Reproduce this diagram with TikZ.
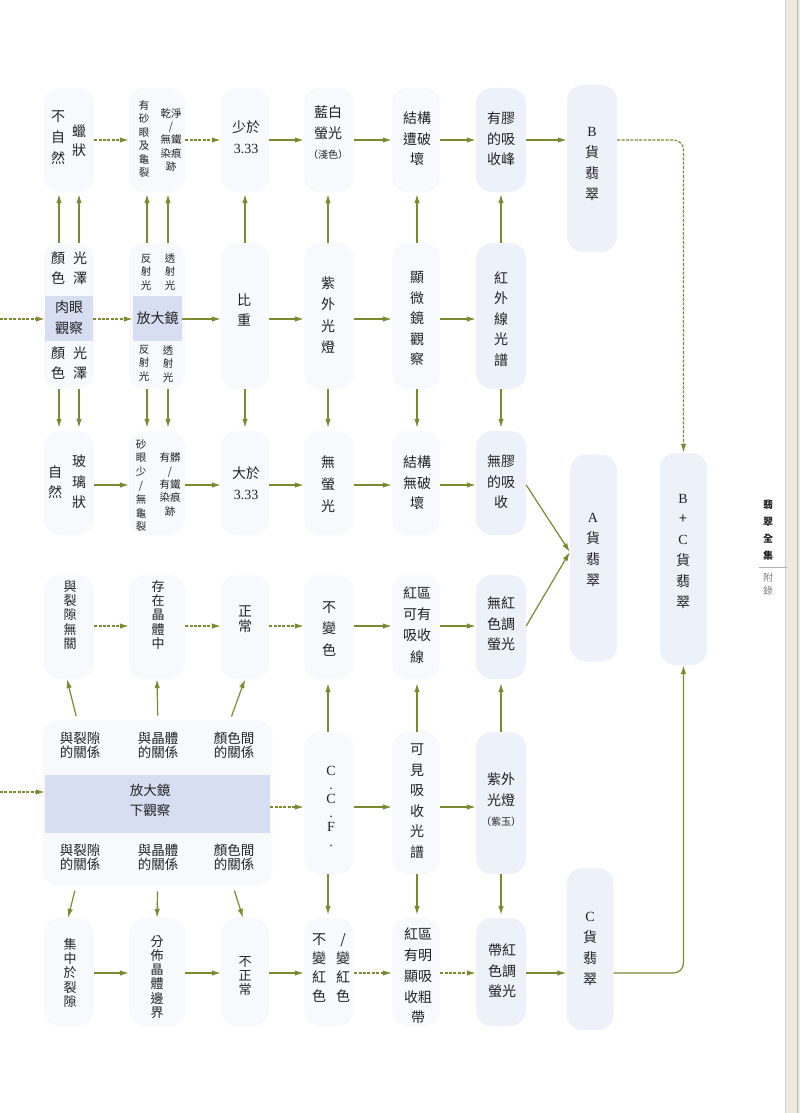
\documentclass[tikz,border=0pt]{standalone}
\usepackage{fontspec}
\setmainfont{Liberation Serif}
\newfontfamily\cjk{Noto Sans CJK TC}
\usetikzlibrary{arrows.meta}
\definecolor{arrowgreen}{RGB}{122,138,48}
\definecolor{inkgray}{RGB}{34,34,34}
\definecolor{faintblue}{RGB}{248,249,253}
\definecolor{paleblue}{RGB}{236,241,250}
\definecolor{boxblue}{RGB}{216,222,241}
\definecolor{pagetone}{RGB}{238,234,224}
\begin{document}
\begin{tikzpicture}[x=1pt,y=-1pt,line join=round,>=Latex]
	\tikzset{
		pill/.style={rectangle,rounded corners=16pt,inner sep=0pt,draw=none},
		lav/.style={rectangle,fill=boxblue,inner sep=0pt,draw=none},
		txt/.style={align=center,inner sep=0pt,text=inkgray,font=\cjk\fontsize{14}{20.5}\selectfont},
		stxt/.style={txt,font=\cjk\fontsize{10.5}{13.4}\selectfont},
		ttxt/.style={txt,font=\cjk\fontsize{13}{14.2}\selectfont},
		ltxt/.style={txt,font=\cjk\fontsize{13.5}{14}\selectfont},
		arr/.style={draw=arrowgreen,line width=1.2pt,-{Latex[length=9pt,width=5.5pt]}},
		darr/.style={arr,dash pattern=on 3pt off 1.4pt},
	}
	\useasboundingbox (0,0) rectangle (800,1113);
	\fill[white] (0,0) rectangle (800,1113);
	\fill[pagetone] (786,0) rectangle (800,1113);
	\draw[gray!35,line width=.6pt] (785.5,0) -- (785.5,1113);
	\draw[gray!55,line width=.8pt] (797,0) -- (797,1113);
	% rows of the arrows
	\coordinate (r1) at (0,140); \coordinate (r2) at (0,319); \coordinate (r3) at (0,485);
	\coordinate (r4) at (0,626); \coordinate (r5) at (0,807); \coordinate (r6) at (0,973);
	\coordinate (in2) at (0,319); \coordinate (in5) at (0,792);
	% background pills
	\foreach \c/\x/\w/\f in {1/69/50/faintblue,2/157/56/faintblue,3/245/48/faintblue,4/329/50/faintblue,5/416/48/faintblue,6/501/50/paleblue}
	\foreach \r/\y/\h in {1/140/104,2/316/146,3/483/104,4/627/104,6/972/108}
	\node[pill,fill=\f,minimum width=\w,minimum height=\h] (p\r\c) at (\x,\y) {};
	\foreach \c/\x/\w/\f in {4/329/50/faintblue,5/416/48/faintblue,6/501/50/paleblue}
	\node[pill,fill=\f,minimum width=\w,minimum height=142] (p5\c) at (\x,803) {};
	\node[pill,fill=faintblue,minimum width=230,minimum height=165] (p5L) at (157.5,803) {};
	\node[pill,fill=paleblue,minimum width=50,minimum height=167] (Bj) at (592,168.5) {};
	\node[pill,fill=paleblue,minimum width=47,minimum height=207] (Aj) at (593.5,558) {};
	\node[pill,fill=paleblue,minimum width=47,minimum height=162] (Cj) at (590,949) {};
	\node[pill,fill=paleblue,minimum width=47,minimum height=212] (BC) at (683.5,559) {};
	\node[lav,minimum width=48,minimum height=45] (eye) at (69,318) {};
	\node[lav,minimum width=49,minimum height=45] (lens) at (157.5,318) {};
	\node[lav,minimum width=225,minimum height=58] (lens2) at (157.5,804) {};
	% row 1
	\node[txt,font=\cjk\fontsize{14}{21}\selectfont] (t11a) at (58,138) {不\\自\\然};
	\node[txt,font=\cjk\fontsize{14}{19}\selectfont] (t11b) at (79,141) {蠟\\狀};
	\node[stxt] (t12a) at (144,139) {有\\砂\\眼\\及\\龜\\裂};
	\node[stxt] (t12b) at (171,140) {乾淨\\/\\無鐵\\染痕\\跡};
	\node[txt] (t13) at (246,137) {少於\\{\rmfamily 3.33}};
	\node[txt] (t14) at (328,133) {藍白\\螢光\\{\fontsize{10}{12}\selectfont （淺色）}};
	\node[txt] (t15) at (417,139) {結構\\遭破\\壞};
	\node[txt] (t16) at (501,139) {有膠\\的吸\\收峰};
	\node[txt,font=\cjk\fontsize{14}{21}\selectfont] (tB) at (592,164) {{\rmfamily B}\\貨\\翡\\翠};
	% row 2
	\node[txt] (t21a) at (58,268) {顏\\色};
	\node[txt] (t21b) at (80,268) {光\\澤};
	\node[txt,font=\cjk\fontsize{14}{21}\selectfont] (teye) at (eye) {肉眼\\觀察};
	\node[txt] (t21c) at (58,363) {顏\\色};
	\node[txt] (t21d) at (80,363) {光\\澤};
	\node[stxt] (t22a) at (146,272) {反\\射\\光};
	\node[stxt] (t22b) at (170,272) {透\\射\\光};
	\node[txt] (tlens) at (lens) {放大鏡};
	\node[stxt] (t22c) at (144,363) {反\\射\\光};
	\node[stxt] (t22d) at (168,364) {透\\射\\光};
	\node[txt] (t23) at (244,310) {比\\重};
	\node[txt,font=\cjk\fontsize{14}{21.3}\selectfont] (t24) at (328,315) {紫\\外\\光\\燈};
	\node[txt] (t25) at (417,319) {顯\\微\\鏡\\觀\\察};
	\node[txt] (t26) at (501,319) {紅\\外\\線\\光\\譜};
	% row 3
	\node[txt] (t31a) at (55,482) {自\\然};
	\node[txt] (t31b) at (79,482) {玻\\璃\\狀};
	\node[stxt,font=\cjk\fontsize{10.5}{13.8}\selectfont] (t32a) at (141,485.5) {砂\\眼\\少\\/\\無\\龜\\裂};
	\node[stxt] (t32b) at (170,484.5) {有髒\\/\\有鐵\\染痕\\跡};
	\node[txt] (t33) at (246,483) {大於\\{\rmfamily 3.33}};
	\node[txt,font=\cjk\fontsize{14}{22}\selectfont] (t34) at (328,484) {無\\螢\\光};
	\node[txt] (t35) at (417,483) {結構\\無破\\壞};
	\node[txt] (t36) at (501,482) {無膠\\的吸\\收};
	\node[txt,font=\cjk\fontsize{14}{21}\selectfont] (tA) at (593,550) {{\rmfamily A}\\貨\\翡\\翠};
	\node[txt,font=\cjk\fontsize{14}{20.8}\selectfont] (tBC) at (683,551) {{\rmfamily B}\\+\\{\rmfamily C}\\貨\\翡\\翠};
	% row 4
	\node[ttxt] (t41) at (70,615) {與\\裂\\隙\\無\\關};
	\node[ttxt] (t42) at (158,615) {存\\在\\晶\\體\\中};
	\node[txt,font=\cjk\fontsize{14}{15}\selectfont] (t43) at (245,619) {正\\常};
	\node[txt,font=\cjk\fontsize{14}{21.5}\selectfont] (t44) at (329,629) {不\\變\\色};
	\node[txt,font=\cjk\fontsize{14}{21.3}\selectfont] (t45) at (417,625) {紅區\\可有\\吸收\\線};
	\node[txt] (t46) at (501,624) {無紅\\色調\\螢光};
	% row 5
	\node[ltxt] (lu1) at (80,745) {與裂隙\\的關係};
	\node[ltxt] (lu2) at (158,745) {與晶體\\的關係};
	\node[ltxt] (lu3) at (234,745) {顏色間\\的關係};
	\node[txt,font=\cjk\fontsize{13.5}{20}\selectfont] (tlens2) at (150,800) {放大鏡\\下觀察};
	\node[ltxt] (ld1) at (80,857) {與裂隙\\的關係};
	\node[ltxt] (ld2) at (158,857) {與晶體\\的關係};
	\node[ltxt] (ld3) at (234,857) {顏色間\\的關係};
	\node[txt,font=\rmfamily\fontsize{14}{14.2}\selectfont] (t54) at (331,806) {C\\.\\C\\.\\F\\.};
	\node[txt] (t55) at (417,801) {可\\見\\吸\\收\\光\\譜};
	\node[txt] (t56) at (501,800) {紫外\\光燈\\{\fontsize{10}{12}\selectfont （紫玉）}};
	% row 6
	\node[ttxt] (t61) at (70,973) {集\\中\\於\\裂\\隙};
	\node[ttxt] (t62) at (157,977) {分\\佈\\晶\\體\\邊\\界};
	\node[ttxt] (t63) at (245,976) {不\\正\\常};
	\node[txt,font=\cjk\fontsize{14}{19}\selectfont] (t64a) at (319,968) {不\\變\\紅\\色};
	\node[txt,font=\cjk\fontsize{14}{19}\selectfont] (t64b) at (343,968) {/\\變\\紅\\色};
	\node[txt,font=\cjk\fontsize{14}{20.75}\selectfont] (t65) at (418,976) {紅區\\有明\\顯吸\\收粗\\帶};
	\node[txt] (t66) at (502,971) {帶紅\\色調\\螢光};
	\node[txt,font=\cjk\fontsize{14}{21}\selectfont] (tC) at (590,949) {{\rmfamily C}\\貨\\翡\\翠};
	% margin
	\node[txt,font=\cjk\bfseries\fontsize{10}{17}\selectfont] (mtitle) at (768,530) {翡\\翠\\全\\集};
	\draw[gray!60,line width=.5pt] (759,567) -- (787,567);
	\node[txt,text=gray,font=\cjk\fontsize{10}{13}\selectfont] (mapp) at (768,584) {附\\錄};
	% horizontal arrows
	\draw[darr] (p11.east|-r1) -- (p12.west|-r1);
	\draw[darr] (p12.east|-r1) -- (p13.west|-r1);
	\foreach \a/\b in {13/14,14/15,15/16}
	\draw[arr] (p\a.east|-r1) -- (p\b.west|-r1);
	\draw[arr] (p16.east|-r1) -- (Bj.west|-r1);
	\draw[darr] (in2) -- (eye.west|-in2);
	\draw[darr] (eye.east|-r2) -- (lens.west|-r2);
	\draw[arr] (lens.east|-r2) -- (p23.west|-r2);
	\foreach \a/\b in {23/24,24/25,25/26}
	\draw[arr] (p\a.east|-r2) -- (p\b.west|-r2);
	\foreach \a/\b in {31/32,32/33,33/34,34/35,35/36}
	\draw[arr] (p\a.east|-r3) -- (p\b.west|-r3);
	\foreach \a/\b in {41/42,42/43,43/44}
	\draw[darr] (p\a.east|-r4) -- (p\b.west|-r4);
	\foreach \a/\b in {44/45,45/46}
	\draw[arr] (p\a.east|-r4) -- (p\b.west|-r4);
	\draw[arr] (p36.east|-r3) -- ([yshift=6pt]Aj.west);
	\draw[arr] (p46.east|-r4) -- ([yshift=6pt]Aj.west);
	\draw[darr] (in5) -- (lens2.west|-in5);
	\draw[darr] (lens2.east|-r5) -- (p54.west|-r5);
	\foreach \a/\b in {54/55,55/56}
	\draw[arr] (p\a.east|-r5) -- (p\b.west|-r5);
	\foreach \a/\b in {61/62,62/63,63/64}
	\draw[arr] (p\a.east|-r6) -- (p\b.west|-r6);
	\foreach \a/\b in {64/65,65/66}
	\draw[darr] (p\a.east|-r6) -- (p\b.west|-r6);
	\draw[arr] (p66.east|-r6) -- (Cj.west|-r6);
	% vertical arrows
	\foreach \c/\x in {1/59,1/79,2/147,2/168,3/245,4/328,5/417,6/501}{
		\draw[arr,shorten >=2pt] (p2\c.north -| \x,0) -- (p1\c.south -| \x,0);
		\draw[arr,shorten >=3pt] (p2\c.south -| \x,0) -- (p3\c.north -| \x,0);
	}
	\foreach \c/\x in {4/328,5/417,6/501}{
		\draw[arr,shorten >=4pt] (p5\c.north -| \x,0) -- (p4\c.south -| \x,0);
		\draw[arr,shorten >=3pt] (p5\c.south -| \x,0) -- (p6\c.north -| \x,0);
	}
	\draw[arr,shorten <=16pt] (lu1.north) -- ([xshift=-2pt]p41.south);
	\draw[arr,shorten <=16pt] (lu2.north) -- (p42.south);
	\draw[arr,shorten <=16pt] ([xshift=-8pt]lu3.north) -- (p43.south);
	\draw[arr,shorten <=21pt] (ld1.south) -- ([xshift=-1pt]p61.north);
	\draw[arr,shorten <=21pt] (ld2.south) -- (p62.north);
	\draw[arr,shorten <=21pt] ([xshift=-6pt]ld3.south) -- ([xshift=-2pt]p63.north);
	% to B+C
	\draw[darr,rounded corners=10pt] (Bj.east|-r1) -| (BC.north);
	\draw[arr,rounded corners=10pt] (Cj.east|-r6) -| (BC.south);
\end{tikzpicture}
\end{document}
